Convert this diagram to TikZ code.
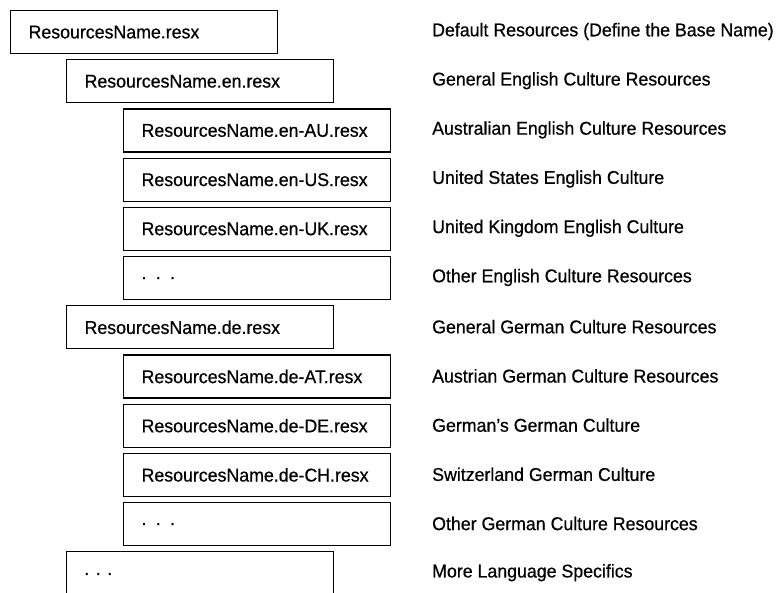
\documentclass[tikz,border=0pt]{standalone}
\usepackage{fontspec}
\setmainfont{Liberation Sans}[FakeStretch=0.96, FakeBold=0.6]

\begin{document}
\begin{tikzpicture}[x=1pt, y=-1pt,
		file/.style={draw, line width=1.2pt, anchor=north west, minimum width=267pt, minimum height=43pt,
			inner xsep=18pt, text width=231pt, align=left, font=\fontsize{18.5}{20}\selectfont},
		desc/.style={anchor=west, inner sep=0pt, font=\fontsize{18.5}{20}\selectfont}]
		\useasboundingbox (0,0) rectangle (780,593);
		\clip (0,0) rectangle (780,593);
		% boxes, one level indented per culture
		\node[file] (base) at (10,10){ResourcesName.resx};
		\node[file] (en) at (66,59.2){ResourcesName.en.resx};
		\node[file] (enAU) at (123,108.4){ResourcesName.en-AU.resx};
		\node[file] (enUS) at (123,157.6){ResourcesName.en-US.resx};
		\node[file] (enUK) at (123,206.8){ResourcesName.en-UK.resx};
		\node[file] (enMore) at (123,256){. . .};
		\node[file] (de) at (66,305.2){ResourcesName.de.resx};
		\node[file] (deAT) at (123,354.4){ResourcesName.de-AT.resx};
		\node[file] (deDE) at (123,403.6){ResourcesName.de-DE.resx};
		\node[file] (deCH) at (123,452.8){ResourcesName.de-CH.resx};
		\node[file] (deMore) at (123,502){. . .};
		% last box runs off the bottom edge
		\node[file, minimum height=60pt] (more) at (66,551.2){};
		\node[anchor=west, inner sep=0pt, font=\fontsize{18.5}{20}\selectfont] (moreDots) at (84,574){. . .};
		% descriptions
		\node[desc] (dBase) at (432,31.5){Default Resources (Define the Base Name)};
		\node[desc] (dEn) at (432,80.7){General English Culture Resources};
		\node[desc] (dEnAU) at (432,129.9){Australian English Culture Resources};
		\node[desc] (dEnUS) at (432,179.1){United States English Culture};
		\node[desc] (dEnUK) at (432,228.3){United Kingdom English Culture};
		\node[desc] (dEnMore) at (432,277.5){Other English Culture Resources};
		\node[desc] (dDe) at (432,326.7){General German Culture Resources};
		\node[desc] (dDeAT) at (432,375.9){Austrian German Culture Resources};
		\node[desc] (dDeDE) at (432,425.1){German's German Culture};
		\node[desc] (dDeCH) at (432,474.3){Switzerland German Culture};
		\node[desc] (dDeMore) at (432,523.5){Other German Culture Resources};
		\node[desc] (dMore) at (432,572.7){More Language Specifics};
		\end{tikzpicture}
\end{document}
